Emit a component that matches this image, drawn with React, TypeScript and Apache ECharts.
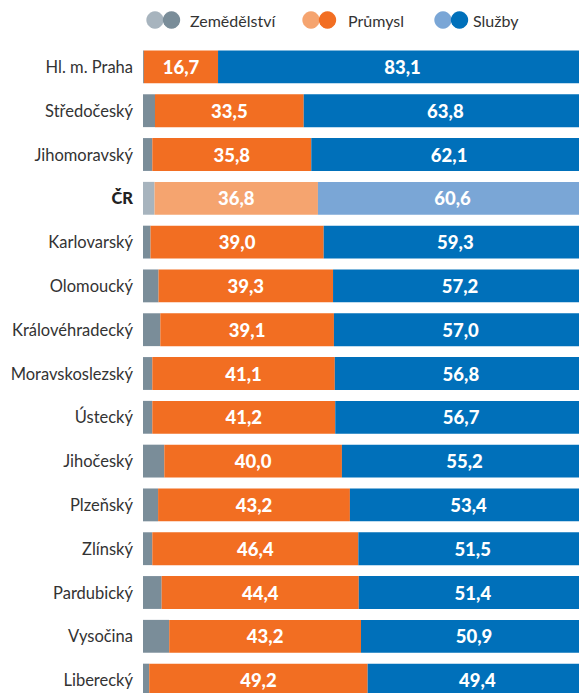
import React, { useEffect, useRef } from "react";
import * as echarts from "echarts";

const categories = [
  "Hl. m. Praha",
  "Středočeský",
  "Jihomoravský",
  "ČR",
  "Karlovarský",
  "Olomoucký",
  "Královéhradecký",
  "Moravskoslezský",
  "Ústecký",
  "Jihočeský",
  "Plzeňský",
  "Zlínský",
  "Pardubický",
  "Vysočina",
  "Liberecký",
];
const zemedelstvi = [0.2, 2.7, 2.1, 2.6, 1.7, 3.5, 3.9, 2.1, 2.1, 4.8, 3.4, 2.1, 4.2, 5.9, 1.4];
const prumysl = [16.7, 33.5, 35.8, 36.8, 39.0, 39.3, 39.1, 41.1, 41.2, 40.0, 43.2, 46.4, 44.4, 43.2, 49.2];
const sluzby = [83.1, 63.8, 62.1, 60.6, 59.3, 57.2, 57.0, 56.8, 56.7, 55.2, 53.4, 51.5, 51.4, 50.9, 49.4];
const legendNames = ["Zemědělství", "Průmysl", "Služby"];

const COLORS = {
  grey: "#7A8D99",
  greyLight: "#A7B4BE",
  orange: "#F26E22",
  orangeLight: "#F5A46F",
  blue: "#0070BA",
  blueLight: "#7AA6D6",
};

const FONT = "Lato, 'Noto Sans', sans-serif";
const fmt = (v: number) => v.toFixed(1).replace(".", ",");

export default function App() {
  const ref = useRef<HTMLDivElement>(null);
  useEffect(() => {
    if (!ref.current) return;
    const chart = echarts.init(ref.current, null, { renderer: "svg" });
    const crIndex = categories.indexOf("ČR");
    const mk = (vals: number[], c: string, cl: string, withLabel: boolean) =>
      vals.map((v, i) => ({
        value: v,
        itemStyle: { color: i === crIndex ? cl : c },
        label: withLabel
          ? {
              show: true,
              position: "inside",
              formatter: () => fmt(v),
              color: "#fff",
              fontWeight: 900,
              fontSize: 18.5,
              fontFamily: FONT,
            }
          : { show: false },
      }));
    const legendItems = [
      { x: 155, light: COLORS.greyLight, dark: COLORS.grey, tx: 190, name: legendNames[0] },
      { x: 311, light: COLORS.orangeLight, dark: COLORS.orange, tx: 348, name: legendNames[1] },
      { x: 443, light: COLORS.blueLight, dark: COLORS.blue, tx: 473, name: legendNames[2] },
    ];
    const graphics: any[] = [];
    legendItems.forEach((it) => {
      graphics.push({ type: "circle", shape: { cx: it.x, cy: 20, r: 8.7 }, style: { fill: it.light } });
      graphics.push({ type: "circle", shape: { cx: it.x + 16.5, cy: 20, r: 8.7 }, style: { fill: it.dark } });
      graphics.push({
        type: "text",
        x: it.tx,
        y: 20,
        style: { text: it.name, fill: "#333", font: `16px ${FONT}`, textVerticalAlign: "middle" },
      });
    });
    chart.setOption({
      animation: false,
      graphic: graphics,
      grid: { left: 143, top: 45, width: 444, height: 657 },
      xAxis: { type: "value", min: 0, max: 100, show: false },
      yAxis: {
        type: "category",
        data: categories,
        inverse: true,
        axisLine: { show: false },
        axisTick: { show: false },
        splitLine: { show: false },
        axisLabel: {
          margin: 10,
          color: "#333",
          fontSize: 16.5,
          fontFamily: FONT,
          formatter: (v: string) => (v === "ČR" ? `{b|${v}}` : v),
          rich: { b: { fontWeight: 900, color: "#222", fontSize: 16.5, fontFamily: FONT } },
        },
      },
      series: [
        {
          name: legendNames[0],
          type: "bar",
          stack: "s",
          barCategoryGap: "25%",
          data: mk(zemedelstvi, COLORS.grey, COLORS.greyLight, false),
        },
        {
          name: legendNames[1],
          type: "bar",
          stack: "s",
          barCategoryGap: "25%",
          data: mk(prumysl, COLORS.orange, COLORS.orangeLight, true),
        },
        {
          name: legendNames[2],
          type: "bar",
          stack: "s",
          barCategoryGap: "25%",
          data: mk(sluzby, COLORS.blue, COLORS.blueLight, true),
        },
      ],
    });
    return () => chart.dispose();
  }, []);
  return (
    <div style={{ position: "fixed", left: 0, top: 0, width: 579, height: 693, overflow: "hidden", background: "#fff" }}>
      <div ref={ref} style={{ width: 600, height: 720 }} />
    </div>
  );
}
